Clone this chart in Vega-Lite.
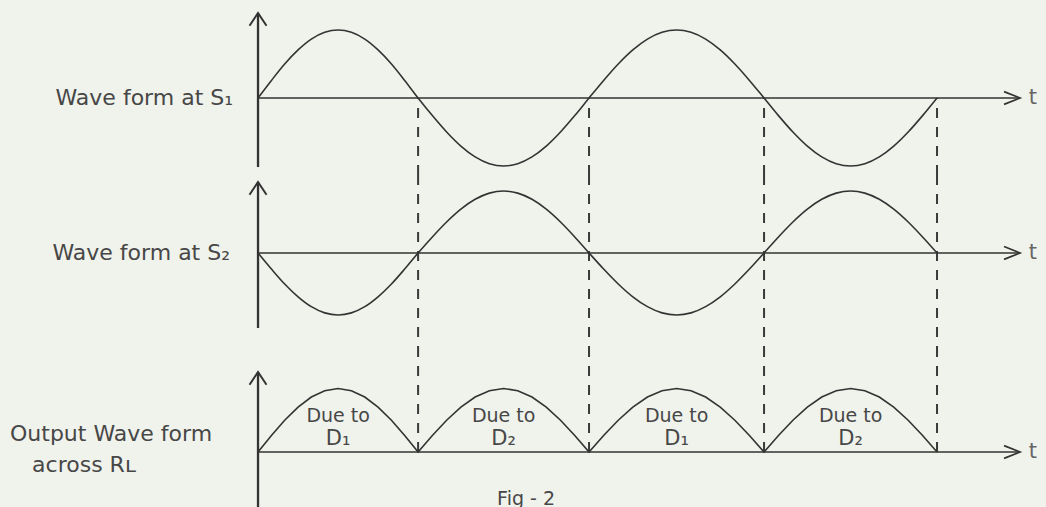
{
  "$schema": "https://vega.github.io/schema/vega-lite/v6.json",
  "background": "#f0f2ec",
  "padding": 0,
  "spacing": 0,
  "bounds": "flush",
  "config": {
    "view": {"stroke": null},
    "text": {"font": "DejaVu Sans", "fill": "#474747"}
  },
  "datasets": {
    "wave": [
      {"t": 0, "s1": 0, "s2": 0, "out": 0},
      {"t": 0.79, "s1": 2.588, "s2": -2.588, "out": 2.588},
      {"t": 1.57, "s1": 5, "s2": -5, "out": 5},
      {"t": 2.36, "s1": 7.071, "s2": -7.071, "out": 7.071},
      {"t": 3.14, "s1": 8.66, "s2": -8.66, "out": 8.66},
      {"t": 3.93, "s1": 9.659, "s2": -9.659, "out": 9.659},
      {"t": 4.72, "s1": 10, "s2": -10, "out": 10},
      {"t": 5.5, "s1": 9.659, "s2": -9.659, "out": 9.659},
      {"t": 6.29, "s1": 8.66, "s2": -8.66, "out": 8.66},
      {"t": 7.07, "s1": 7.071, "s2": -7.071, "out": 7.071},
      {"t": 7.86, "s1": 5, "s2": -5, "out": 5},
      {"t": 8.64, "s1": 2.588, "s2": -2.588, "out": 2.588},
      {"t": 9.43, "s1": 0, "s2": 0, "out": 0},
      {"t": 10.27, "s1": -2.588, "s2": 2.588, "out": 2.588},
      {"t": 11.11, "s1": -5, "s2": 5, "out": 5},
      {"t": 11.95, "s1": -7.071, "s2": 7.071, "out": 7.071},
      {"t": 12.79, "s1": -8.66, "s2": 8.66, "out": 8.66},
      {"t": 13.63, "s1": -9.659, "s2": 9.659, "out": 9.659},
      {"t": 14.47, "s1": -10, "s2": 10, "out": 10},
      {"t": 15.3, "s1": -9.659, "s2": 9.659, "out": 9.659},
      {"t": 16.14, "s1": -8.66, "s2": 8.66, "out": 8.66},
      {"t": 16.98, "s1": -7.071, "s2": 7.071, "out": 7.071},
      {"t": 17.82, "s1": -5, "s2": 5, "out": 5},
      {"t": 18.66, "s1": -2.588, "s2": 2.588, "out": 2.588},
      {"t": 19.5, "s1": 0, "s2": 0, "out": 0},
      {"t": 20.36, "s1": 2.588, "s2": -2.588, "out": 2.588},
      {"t": 21.22, "s1": 5, "s2": -5, "out": 5},
      {"t": 22.08, "s1": 7.071, "s2": -7.071, "out": 7.071},
      {"t": 22.94, "s1": 8.66, "s2": -8.66, "out": 8.66},
      {"t": 23.8, "s1": 9.659, "s2": -9.659, "out": 9.659},
      {"t": 24.66, "s1": 10, "s2": -10, "out": 10},
      {"t": 25.51, "s1": 9.659, "s2": -9.659, "out": 9.659},
      {"t": 26.37, "s1": 8.66, "s2": -8.66, "out": 8.66},
      {"t": 27.23, "s1": 7.071, "s2": -7.071, "out": 7.071},
      {"t": 28.09, "s1": 5, "s2": -5, "out": 5},
      {"t": 28.95, "s1": 2.588, "s2": -2.588, "out": 2.588},
      {"t": 29.81, "s1": 0, "s2": 0, "out": 0},
      {"t": 30.66, "s1": -2.588, "s2": 2.588, "out": 2.588},
      {"t": 31.51, "s1": -5, "s2": 5, "out": 5},
      {"t": 32.36, "s1": -7.071, "s2": 7.071, "out": 7.071},
      {"t": 33.21, "s1": -8.66, "s2": 8.66, "out": 8.66},
      {"t": 34.06, "s1": -9.659, "s2": 9.659, "out": 9.659},
      {"t": 34.91, "s1": -10, "s2": 10, "out": 10},
      {"t": 35.75, "s1": -9.659, "s2": 9.659, "out": 9.659},
      {"t": 36.6, "s1": -8.66, "s2": 8.66, "out": 8.66},
      {"t": 37.45, "s1": -7.071, "s2": 7.071, "out": 7.071},
      {"t": 38.3, "s1": -5, "s2": 5, "out": 5},
      {"t": 39.15, "s1": -2.588, "s2": 2.588, "out": 2.588},
      {"t": 40, "s1": 0, "s2": 0, "out": 0}
    ],
    "crossings": [{"t": 9.43}, {"t": 19.5}, {"t": 29.81}, {"t": 40}],
    "diodes": [
      {"t": 4.72, "diode": "D₁"},
      {"t": 14.47, "diode": "D₂"},
      {"t": 24.66, "diode": "D₁"},
      {"t": 34.91, "diode": "D₂"}
    ]
  },
  "vconcat": [
    {
      "width": 1046,
      "height": 175,
      "layer": [
        {
          "data": {"name": "crossings"},
          "mark": {"type": "rule", "stroke": "#3a3a3a", "strokeWidth": 2, "strokeDash": [10, 9], "strokeDashOffset": 9},
          "encoding": {
            "x": {"field": "t", "type": "quantitative", "scale": {"domain": [-15.2, 46.42], "nice": false, "zero": false}, "axis": null},
            "y": {"datum": 0, "type": "quantitative", "scale": {"domain": [-11.32, 14.41], "nice": false, "zero": false}, "axis": null},
            "y2": {"value": "height"}
          }
        },
        {
          "data": {"values": [{}]},
          "mark": {"type": "rule", "stroke": "#333", "strokeWidth": 1.7},
          "encoding": {
            "x": {"datum": 0, "type": "quantitative", "scale": {"domain": [-15.2, 46.42], "nice": false, "zero": false}, "axis": null},
            "x2": {"datum": 44.89},
            "y": {"datum": 0, "type": "quantitative", "scale": {"domain": [-11.32, 14.41], "nice": false, "zero": false}, "axis": null}
          }
        },
        {
          "data": {"values": [{}]},
          "mark": {"type": "rule", "stroke": "#333", "strokeWidth": 2.3},
          "encoding": {
            "x": {"datum": 0, "type": "quantitative", "scale": {"domain": [-15.2, 46.42], "nice": false, "zero": false}, "axis": null},
            "y": {"datum": -10.15, "type": "quantitative", "scale": {"domain": [-11.32, 14.41], "nice": false, "zero": false}, "axis": null},
            "y2": {"datum": 12.5}
          }
        },
        {
          "data": {"name": "wave"},
          "mark": {"type": "line", "interpolate": "monotone", "stroke": "#333", "strokeWidth": 1.6},
          "encoding": {
            "x": {"field": "t", "type": "quantitative", "scale": {"domain": [-15.2, 46.42], "nice": false, "zero": false}, "axis": null},
            "y": {"field": "s1", "type": "quantitative", "scale": {"domain": [-11.32, 14.41], "nice": false, "zero": false}, "axis": null}
          }
        },
        {
          "data": {"values": [{}]},
          "mark": {"type": "point", "shape": "M-1,1.5L0,0L1,1.5", "size": 289, "filled": false, "stroke": "#333", "strokeWidth": 2, "opacity": 1},
          "encoding": {
            "x": {"datum": 0, "type": "quantitative", "scale": {"domain": [-15.2, 46.42], "nice": false, "zero": false}, "axis": null},
            "y": {"datum": 12.5, "type": "quantitative", "scale": {"domain": [-11.32, 14.41], "nice": false, "zero": false}, "axis": null}
          }
        },
        {
          "data": {"values": [{}]},
          "mark": {"type": "point", "shape": "M-2,-0.8L0,0L-2,0.8", "size": 256, "filled": false, "stroke": "#333", "strokeWidth": 1.7, "opacity": 1},
          "encoding": {
            "x": {"datum": 44.89, "type": "quantitative", "scale": {"domain": [-15.2, 46.42], "nice": false, "zero": false}, "axis": null},
            "y": {"datum": 0, "type": "quantitative", "scale": {"domain": [-11.32, 14.41], "nice": false, "zero": false}, "axis": null}
          }
        },
        {
          "data": {"values": [{}]},
          "mark": {"type": "text", "align": "left", "baseline": "middle", "fontSize": 21, "fill": "#666"},
          "encoding": {
            "x": {"datum": 45.4, "type": "quantitative", "scale": {"domain": [-15.2, 46.42], "nice": false, "zero": false}, "axis": null},
            "y": {"datum": 0, "type": "quantitative", "scale": {"domain": [-11.32, 14.41], "nice": false, "zero": false}, "axis": null},
            "text": {"value": "t"}
          }
        },
        {
          "data": {"values": [{}]},
          "mark": {"type": "text", "align": "right", "baseline": "middle", "fontSize": 22},
          "encoding": {
            "x": {"datum": -1.47, "type": "quantitative", "scale": {"domain": [-15.2, 46.42], "nice": false, "zero": false}, "axis": null},
            "y": {"datum": 0, "type": "quantitative", "scale": {"domain": [-11.32, 14.41], "nice": false, "zero": false}, "axis": null},
            "text": {"value": "Wave form at S₁"}
          }
        }
      ]
    },
    {
      "width": 1046,
      "height": 175,
      "layer": [
        {
          "data": {"name": "crossings"},
          "mark": {"type": "rule", "stroke": "#3a3a3a", "strokeWidth": 2, "strokeDash": [10, 9]},
          "encoding": {
            "x": {"field": "t", "type": "quantitative", "scale": {"domain": [-15.2, 46.42], "nice": false, "zero": false}, "axis": null}
          }
        },
        {
          "data": {"values": [{}]},
          "mark": {"type": "rule", "stroke": "#333", "strokeWidth": 1.7},
          "encoding": {
            "x": {"datum": 0, "type": "quantitative", "scale": {"domain": [-15.2, 46.42], "nice": false, "zero": false}, "axis": null},
            "x2": {"datum": 44.89},
            "y": {"datum": 0, "type": "quantitative", "scale": {"domain": [-15.65, 12.58], "nice": false, "zero": false}, "axis": null}
          }
        },
        {
          "data": {"values": [{}]},
          "mark": {"type": "rule", "stroke": "#333", "strokeWidth": 2.3},
          "encoding": {
            "x": {"datum": 0, "type": "quantitative", "scale": {"domain": [-15.2, 46.42], "nice": false, "zero": false}, "axis": null},
            "y": {"datum": -12.1, "type": "quantitative", "scale": {"domain": [-15.65, 12.58], "nice": false, "zero": false}, "axis": null},
            "y2": {"datum": 11.45}
          }
        },
        {
          "data": {"name": "wave"},
          "mark": {"type": "line", "interpolate": "monotone", "stroke": "#333", "strokeWidth": 1.6},
          "encoding": {
            "x": {"field": "t", "type": "quantitative", "scale": {"domain": [-15.2, 46.42], "nice": false, "zero": false}, "axis": null},
            "y": {"field": "s2", "type": "quantitative", "scale": {"domain": [-15.65, 12.58], "nice": false, "zero": false}, "axis": null}
          }
        },
        {
          "data": {"values": [{}]},
          "mark": {"type": "point", "shape": "M-1,1.5L0,0L1,1.5", "size": 289, "filled": false, "stroke": "#333", "strokeWidth": 2, "opacity": 1},
          "encoding": {
            "x": {"datum": 0, "type": "quantitative", "scale": {"domain": [-15.2, 46.42], "nice": false, "zero": false}, "axis": null},
            "y": {"datum": 11.45, "type": "quantitative", "scale": {"domain": [-15.65, 12.58], "nice": false, "zero": false}, "axis": null}
          }
        },
        {
          "data": {"values": [{}]},
          "mark": {"type": "point", "shape": "M-2,-0.8L0,0L-2,0.8", "size": 256, "filled": false, "stroke": "#333", "strokeWidth": 1.7, "opacity": 1},
          "encoding": {
            "x": {"datum": 44.89, "type": "quantitative", "scale": {"domain": [-15.2, 46.42], "nice": false, "zero": false}, "axis": null},
            "y": {"datum": 0, "type": "quantitative", "scale": {"domain": [-15.65, 12.58], "nice": false, "zero": false}, "axis": null}
          }
        },
        {
          "data": {"values": [{}]},
          "mark": {"type": "text", "align": "left", "baseline": "middle", "fontSize": 21, "fill": "#666"},
          "encoding": {
            "x": {"datum": 45.4, "type": "quantitative", "scale": {"domain": [-15.2, 46.42], "nice": false, "zero": false}, "axis": null},
            "y": {"datum": 0, "type": "quantitative", "scale": {"domain": [-15.65, 12.58], "nice": false, "zero": false}, "axis": null},
            "text": {"value": "t"}
          }
        },
        {
          "data": {"values": [{}]},
          "mark": {"type": "text", "align": "right", "baseline": "middle", "fontSize": 22},
          "encoding": {
            "x": {"datum": -1.65, "type": "quantitative", "scale": {"domain": [-15.2, 46.42], "nice": false, "zero": false}, "axis": null},
            "y": {"datum": 0, "type": "quantitative", "scale": {"domain": [-15.65, 12.58], "nice": false, "zero": false}, "axis": null},
            "text": {"value": "Wave form at S₂"}
          }
        }
      ]
    },
    {
      "width": 1046,
      "height": 157,
      "layer": [
        {
          "data": {"name": "crossings"},
          "mark": {"type": "rule", "stroke": "#3a3a3a", "strokeWidth": 2, "strokeDash": [10, 9]},
          "encoding": {
            "x": {"field": "t", "type": "quantitative", "scale": {"domain": [-15.2, 46.42], "nice": false, "zero": false}, "axis": null},
            "y": {"datum": 0, "type": "quantitative", "scale": {"domain": [-8.66, 16.06], "nice": false, "zero": false}, "axis": null},
            "y2": {"value": 0}
          }
        },
        {
          "data": {"values": [{}]},
          "mark": {"type": "rule", "stroke": "#333", "strokeWidth": 1.7},
          "encoding": {
            "x": {"datum": 0, "type": "quantitative", "scale": {"domain": [-15.2, 46.42], "nice": false, "zero": false}, "axis": null},
            "x2": {"datum": 44.89},
            "y": {"datum": 0, "type": "quantitative", "scale": {"domain": [-8.66, 16.06], "nice": false, "zero": false}, "axis": null}
          }
        },
        {
          "data": {"values": [{}]},
          "mark": {"type": "rule", "stroke": "#333", "strokeWidth": 2.3},
          "encoding": {
            "x": {"datum": 0, "type": "quantitative", "scale": {"domain": [-15.2, 46.42], "nice": false, "zero": false}, "axis": null},
            "y": {"datum": 12.6, "type": "quantitative", "scale": {"domain": [-8.66, 16.06], "nice": false, "zero": false}, "axis": null},
            "y2": {"value": "height"}
          }
        },
        {
          "data": {"name": "wave"},
          "mark": {"type": "line", "interpolate": "linear", "stroke": "#333", "strokeWidth": 1.6},
          "encoding": {
            "x": {"field": "t", "type": "quantitative", "scale": {"domain": [-15.2, 46.42], "nice": false, "zero": false}, "axis": null},
            "y": {"field": "out", "type": "quantitative", "scale": {"domain": [-8.66, 16.06], "nice": false, "zero": false}, "axis": null}
          }
        },
        {
          "data": {"values": [{}]},
          "mark": {"type": "point", "shape": "M-1,1.5L0,0L1,1.5", "size": 289, "filled": false, "stroke": "#333", "strokeWidth": 2, "opacity": 1},
          "encoding": {
            "x": {"datum": 0, "type": "quantitative", "scale": {"domain": [-15.2, 46.42], "nice": false, "zero": false}, "axis": null},
            "y": {"datum": 12.6, "type": "quantitative", "scale": {"domain": [-8.66, 16.06], "nice": false, "zero": false}, "axis": null}
          }
        },
        {
          "data": {"values": [{}]},
          "mark": {"type": "point", "shape": "M-2,-0.8L0,0L-2,0.8", "size": 256, "filled": false, "stroke": "#333", "strokeWidth": 1.7, "opacity": 1},
          "encoding": {
            "x": {"datum": 44.89, "type": "quantitative", "scale": {"domain": [-15.2, 46.42], "nice": false, "zero": false}, "axis": null},
            "y": {"datum": 0, "type": "quantitative", "scale": {"domain": [-8.66, 16.06], "nice": false, "zero": false}, "axis": null}
          }
        },
        {
          "data": {"values": [{}]},
          "mark": {"type": "text", "align": "left", "baseline": "middle", "fontSize": 21, "fill": "#666"},
          "encoding": {
            "x": {"datum": 45.4, "type": "quantitative", "scale": {"domain": [-15.2, 46.42], "nice": false, "zero": false}, "axis": null},
            "y": {"datum": 0, "type": "quantitative", "scale": {"domain": [-8.66, 16.06], "nice": false, "zero": false}, "axis": null},
            "text": {"value": "t"}
          }
        },
        {
          "data": {"values": [{}]},
          "mark": {"type": "text", "align": "left", "baseline": "middle", "fontSize": 22},
          "encoding": {
            "x": {"datum": -14.61, "type": "quantitative", "scale": {"domain": [-15.2, 46.42], "nice": false, "zero": false}, "axis": null},
            "y": {"datum": 2.83, "type": "quantitative", "scale": {"domain": [-8.66, 16.06], "nice": false, "zero": false}, "axis": null},
            "text": {"value": "Output Wave form"}
          }
        },
        {
          "data": {"values": [{}]},
          "mark": {"type": "text", "align": "left", "baseline": "middle", "fontSize": 22},
          "encoding": {
            "x": {"datum": -13.31, "type": "quantitative", "scale": {"domain": [-15.2, 46.42], "nice": false, "zero": false}, "axis": null},
            "y": {"datum": -2.1, "type": "quantitative", "scale": {"domain": [-8.66, 16.06], "nice": false, "zero": false}, "axis": null},
            "text": {"value": "across Rʟ"}
          }
        },
        {
          "data": {"name": "diodes"},
          "mark": {"type": "text", "align": "center", "baseline": "middle", "fontSize": 19},
          "encoding": {
            "x": {"field": "t", "type": "quantitative", "scale": {"domain": [-15.2, 46.42], "nice": false, "zero": false}, "axis": null},
            "y": {"datum": 5.67, "type": "quantitative", "scale": {"domain": [-8.66, 16.06], "nice": false, "zero": false}, "axis": null},
            "text": {"value": "Due to"}
          }
        },
        {
          "data": {"name": "diodes"},
          "mark": {"type": "text", "align": "center", "baseline": "middle", "fontSize": 21},
          "encoding": {
            "x": {"field": "t", "type": "quantitative", "scale": {"domain": [-15.2, 46.42], "nice": false, "zero": false}, "axis": null},
            "y": {"datum": 2.05, "type": "quantitative", "scale": {"domain": [-8.66, 16.06], "nice": false, "zero": false}, "axis": null},
            "text": {"field": "diode", "type": "nominal"}
          }
        },
        {
          "data": {"values": [{}]},
          "mark": {"type": "text", "align": "center", "baseline": "middle", "fontSize": 19},
          "encoding": {
            "x": {"datum": 15.79, "type": "quantitative", "scale": {"domain": [-15.2, 46.42], "nice": false, "zero": false}, "axis": null},
            "y": {"datum": -7.4, "type": "quantitative", "scale": {"domain": [-8.66, 16.06], "nice": false, "zero": false}, "axis": null},
            "text": {"value": "Fig - 2"}
          }
        }
      ]
    }
  ]
}
